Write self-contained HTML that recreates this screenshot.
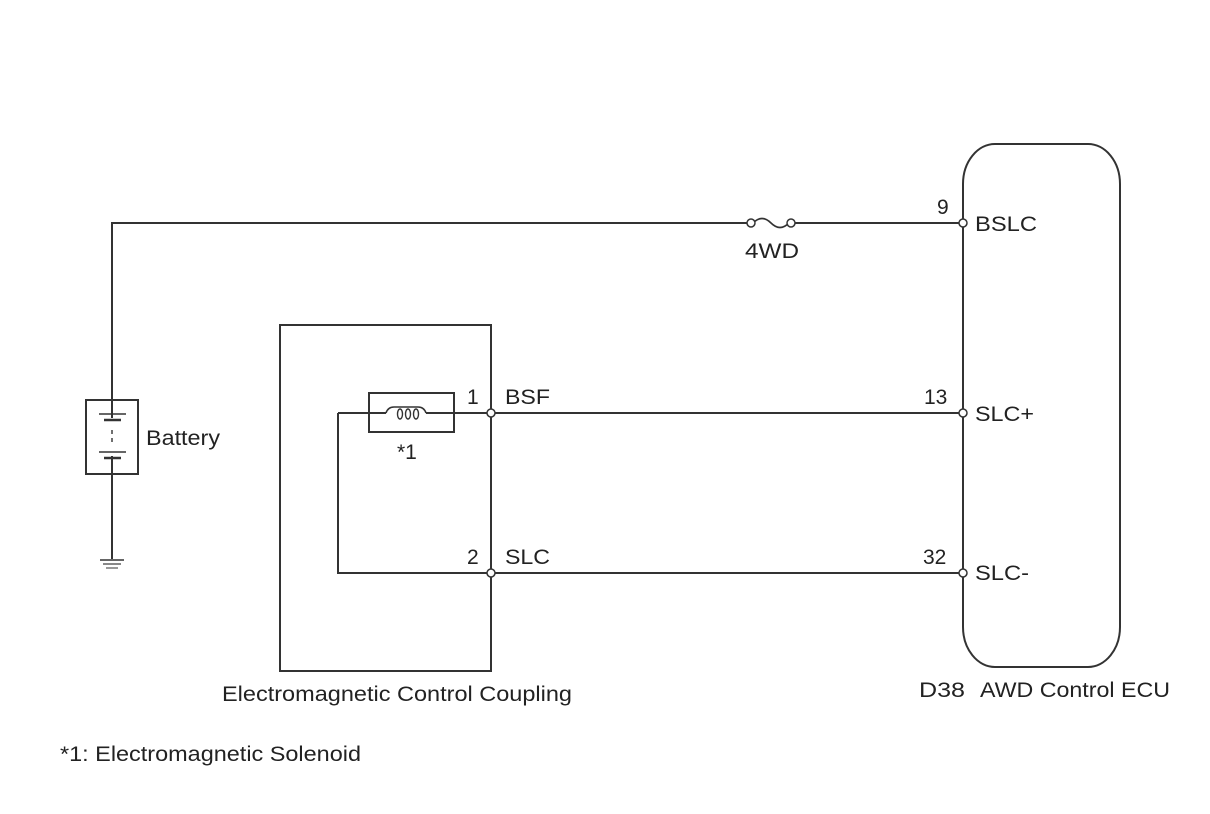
<!DOCTYPE html>
<html><head><meta charset="utf-8"><style>
html,body{margin:0;padding:0;background:#fff;}
svg{display:block;}
text{font-family:"Liberation Sans",sans-serif;fill:#222;}
</style></head><body>
<svg width="1210" height="814" viewBox="0 0 1210 814" xmlns="http://www.w3.org/2000/svg">
<g fill="none" stroke="#333" stroke-width="2">
<rect x="963" y="144" width="157" height="523" rx="32" ry="40"/>
<polyline points="112,560 112,223 749,223"/>
<path d="M753,223 q9,-9 18,0 q9,9 18,0" stroke-width="1.6"/>
<line x1="793" y1="223" x2="959" y2="223"/>
<rect x="86" y="400" width="52" height="74" fill="#fff"/>
<line x1="112" y1="400" x2="112" y2="418"/>
<line x1="112" y1="456" x2="112" y2="474"/>
<line x1="99" y1="414" x2="126" y2="414" stroke-width="1.6"/>
<line x1="104" y1="420" x2="121" y2="420" stroke-width="2.4"/>
<line x1="112" y1="430" x2="112" y2="444" stroke-width="1.4" stroke-dasharray="4,4"/>
<line x1="99" y1="452" x2="126" y2="452" stroke-width="1.6"/>
<line x1="104" y1="458" x2="121" y2="458" stroke-width="2.4"/>
<line x1="100" y1="560" x2="124" y2="560" stroke="#666"/>
<line x1="103" y1="564" x2="121" y2="564" stroke="#888"/>
<line x1="106" y1="568" x2="118" y2="568" stroke="#999"/>
<rect x="280" y="325" width="211" height="346"/>
<rect x="369" y="393" width="85" height="39"/>
<polyline points="338,413 386,413"/>
<path d="M386,413 q2,-6 8,-6 M394,407 h6 M400,407 h6 M406,407 h6 M412,407 h6 q6,0 8,6" stroke-width="1.6"/>
<ellipse cx="400" cy="414" rx="2.5" ry="5" stroke-width="1.4"/>
<ellipse cx="408" cy="414" rx="2.5" ry="5" stroke-width="1.4"/>
<ellipse cx="416" cy="414" rx="2.5" ry="5" stroke-width="1.4"/>
<line x1="426" y1="413" x2="487" y2="413"/>
<polyline points="338,413 338,573 487,573"/>
<line x1="495" y1="413" x2="959" y2="413"/>
<line x1="495" y1="573" x2="959" y2="573"/>
</g>
<g fill="#fff" stroke="#333" stroke-width="1.5">
<circle cx="751" cy="223" r="4"/>
<circle cx="791" cy="223" r="4"/>
<circle cx="963" cy="223" r="4"/>
<circle cx="491" cy="413" r="4"/>
<circle cx="491" cy="573" r="4"/>
<circle cx="963" cy="413" r="4"/>
<circle cx="963" cy="573" r="4"/>
</g>
<g font-size="21">
<text x="745" y="258" textLength="54" lengthAdjust="spacingAndGlyphs">4WD</text>
<text x="937" y="214">9</text>
<text x="975" y="231" textLength="62" lengthAdjust="spacingAndGlyphs">BSLC</text>
<text x="146" y="445" textLength="74" lengthAdjust="spacingAndGlyphs">Battery</text>
<text x="397" y="459">*1</text>
<text x="467" y="404">1</text>
<text x="505" y="404" textLength="45" lengthAdjust="spacingAndGlyphs">BSF</text>
<text x="924" y="404">13</text>
<text x="975" y="421" textLength="59" lengthAdjust="spacingAndGlyphs">SLC+</text>
<text x="467" y="564">2</text>
<text x="505" y="564" textLength="45" lengthAdjust="spacingAndGlyphs">SLC</text>
<text x="923" y="564">32</text>
<text x="975" y="580" textLength="54" lengthAdjust="spacingAndGlyphs">SLC-</text>
<text x="222" y="701" textLength="350" lengthAdjust="spacingAndGlyphs">Electromagnetic Control Coupling</text>
<text x="919" y="697" textLength="46" lengthAdjust="spacingAndGlyphs">D38</text>
<text x="980" y="697" textLength="190" lengthAdjust="spacingAndGlyphs">AWD Control ECU</text>
<text x="60" y="761" textLength="301" lengthAdjust="spacingAndGlyphs">*1: Electromagnetic Solenoid</text>
</g>
</svg>
</body></html>
